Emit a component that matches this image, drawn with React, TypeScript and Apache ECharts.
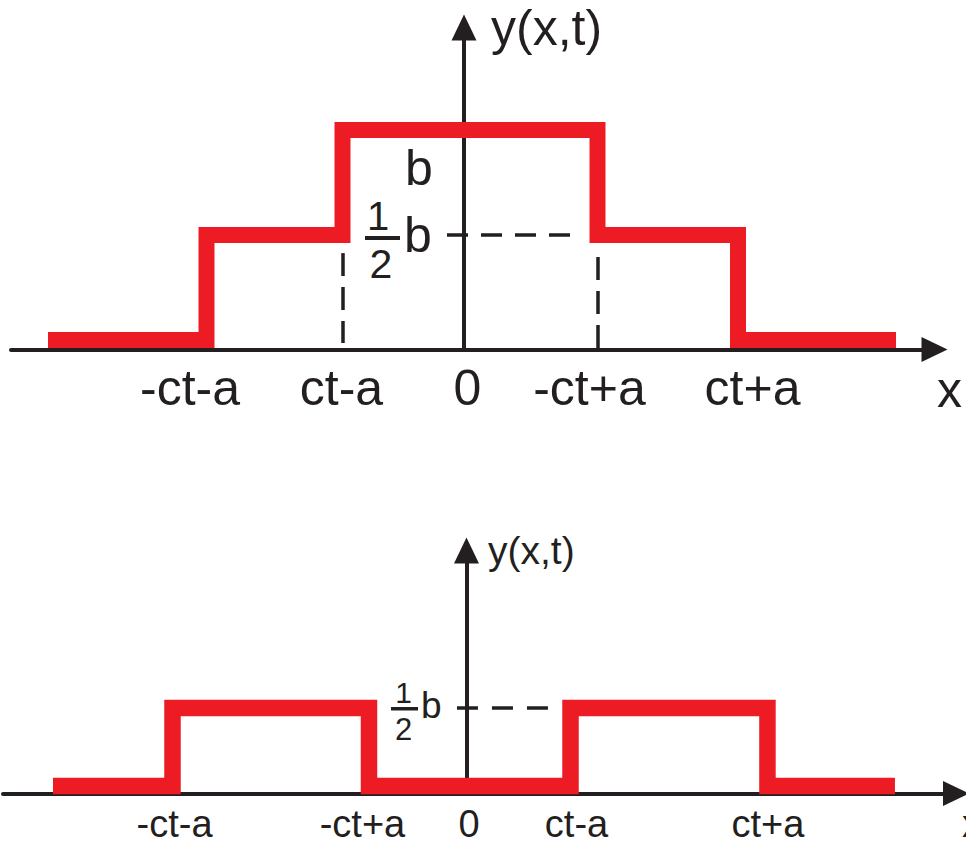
import React, { useEffect, useRef } from "react";
import * as echarts from "echarts";

const INK = "#231f20";
const RED = "#ed1c24";
const FONT = "'Liberation Sans', Arial, Helvetica, sans-serif";

// Upper panel: y(x,t) while the two half-pulses still overlap (b = 1)
const topEdges = [-4.16, -2.575, -1.215, 1.335, 2.74, 4.32];
const topLevels = [0, 0.5, 1, 0.5, 0];
const topTickValues = [-2.74, -1.225, 0.035, 1.255, 2.885];
const topTickLabels = ["-ct-a", "ct-a", "0", "-ct+a", "ct+a"];
const topHalfLevel = 0.5;
const topHalfSpan = [-0.17, 1.06];
const topGuideTops = [0.414, 0.395];
const topGuideBottoms = [-0.014, -0.038];

// Lower panel: the two half-pulses after they have separated
const bottomEdges = [-5.513, -3.92, -1.3, 1.387, 4.013, 5.713];
const bottomLevels = [0, 0.5, 0, 0.5, 0];
const bottomTickValues = [-3.893, -1.387, 0.033, 1.467, 4.02];
const bottomTickLabels = ["-ct-a", "-ct+a", "0", "ct-a", "ct+a"];
const bottomHalfLevel = 0.5;
const bottomHalfSpan = [-0.127, 1.087];

function stepPoints(edges: number[], levels: number[]) {
  const pts: number[][] = [];
  levels.forEach((lv, i) => {
    pts.push([edges[i], lv]);
    pts.push([edges[i + 1], lv]);
  });
  return pts;
}

function labelFor(values: number[], labels: string[]) {
  return (v: number) => {
    let best = 0;
    values.forEach((t, i) => {
      if (Math.abs(t - v) < Math.abs(values[best] - v)) best = i;
    });
    return labels[best];
  };
}

function xAxisOf(
  grid: number,
  min: number,
  max: number,
  values: number[],
  labels: string[],
  fontSize: number,
  lineHeight: number,
  margin: number
) {
  return {
    gridIndex: grid,
    type: "value",
    min,
    max,
    axisLine: {
      onZero: false,
      symbol: ["none", "triangle"],
      symbolSize: [25, 26],
      lineStyle: { color: INK, width: 4 },
    },
    axisTick: { show: false },
    splitLine: { show: false },
    axisLabel: {
      customValues: values,
      formatter: labelFor(values, labels),
      margin,
      fontSize,
      lineHeight,
      fontFamily: FONT,
      color: INK,
    },
  };
}

function yAxisOf(grid: number, min: number, max: number, fontSize: number, pad: number[]) {
  return {
    gridIndex: grid,
    type: "value",
    min,
    max,
    name: "y(x,t)",
    nameLocation: "end",
    nameGap: 0,
    nameTextStyle: {
      fontSize,
      fontFamily: FONT,
      color: INK,
      align: "left",
      verticalAlign: "middle",
      padding: pad,
    },
    axisLine: {
      onZero: true,
      symbol: ["none", "triangle"],
      symbolSize: [25, 26],
      lineStyle: { color: INK, width: 4 },
    },
    axisTick: { show: false },
    splitLine: { show: false },
    axisLabel: { show: false },
  };
}

const dashed = (dash: number[]) => ({
  color: INK,
  width: 3.5,
  type: dash,
});

const txt = (text: string, x: number, y: number, size: number, align = "left") => ({
  type: "text",
  x,
  y,
  style: { text, font: `${size}px ${FONT}`, fill: INK, align, verticalAlign: "middle" },
});

export default function App() {
  const ref = useRef<HTMLDivElement>(null);

  useEffect(() => {
    if (!ref.current) return;
    const chart = echarts.init(ref.current, null, { renderer: "svg" });

    const topGuides = [topEdges[2], topEdges[3]].map((x, i) => [
      { coord: [x, topGuideTops[i]], lineStyle: dashed([23, 11]) },
      { coord: [x, topGuideBottoms[i]] },
    ]);

    chart.setOption({
      animation: false,
      backgroundColor: "#ffffff",
      grid: [
        { left: 11, right: 31.5, top: 27.5, bottom: 491.5, outerBoundsMode: "none", containLabel: false },
        { left: 3, right: 10, top: 550.5, bottom: 47.5, outerBoundsMode: "none", containLabel: false },
      ],
      xAxis: [
        xAxisOf(0, -4.53, 4.705, topTickValues, topTickLabels, 50, 50, 13),
        xAxisOf(1, -6.18, 6.527, bottomTickValues, bottomTickLabels, 38, 30, 15),
      ],
      yAxis: [
        yAxisOf(0, -0.045, 1.488, 50, [4.4, 0, 0, 27]),
        yAxisOf(1, -0.048, 1.51, 39, [0, 0, 1.4, 21.5]),
      ],
      series: [
        {
          type: "line",
          xAxisIndex: 0,
          yAxisIndex: 0,
          data: stepPoints(topEdges, topLevels),
          symbol: "none",
          lineStyle: { color: RED, width: 16, cap: "butt", join: "miter" },
          silent: true,
          markLine: {
            silent: true,
            symbol: "none",
            label: { show: false },
            data: [
              ...topGuides,
              [
                { coord: [topHalfSpan[0], topHalfLevel], lineStyle: dashed([21, 13]) },
                { coord: [topHalfSpan[1], topHalfLevel] },
              ],
            ],
          },
        },
        {
          type: "line",
          xAxisIndex: 1,
          yAxisIndex: 1,
          data: stepPoints(bottomEdges, bottomLevels),
          symbol: "none",
          lineStyle: { color: RED, width: 16.5, cap: "butt", join: "miter" },
          silent: true,
          markLine: {
            silent: true,
            symbol: "none",
            label: { show: false },
            data: [
              [
                { coord: [bottomHalfSpan[0], bottomHalfLevel], lineStyle: dashed([21, 14]) },
                { coord: [bottomHalfSpan[1], bottomHalfLevel] },
              ],
            ],
          },
        },
      ],
      graphic: [
        // axis name x under each arrow
        txt("x", 937, 389.7, 50),
        txt("x", 962, 823.8, 38),
        // upper panel: step height b and the half-height ½b
        txt("b", 405, 167.7, 50),
        txt("1", 378, 216, 40, "center"),
        { type: "rect", shape: { x: 365, y: 236, width: 35, height: 4 }, style: { fill: INK } },
        txt("2", 381, 264, 41, "center"),
        txt("b", 404, 234.7, 50),
        // lower panel: ½b
        txt("1", 403.5, 692.6, 30, "center"),
        { type: "rect", shape: { x: 391, y: 707, width: 27, height: 3.5 }, style: { fill: INK } },
        txt("2", 403.5, 729.6, 31, "center"),
        txt("b", 421, 705.2, 37),
      ],
    });

    return () => chart.dispose();
  }, []);

  return (
    <div
      ref={ref}
      style={{ position: "fixed", left: 0, top: 0, width: 966, height: 841, background: "#fff" }}
    />
  );
}
